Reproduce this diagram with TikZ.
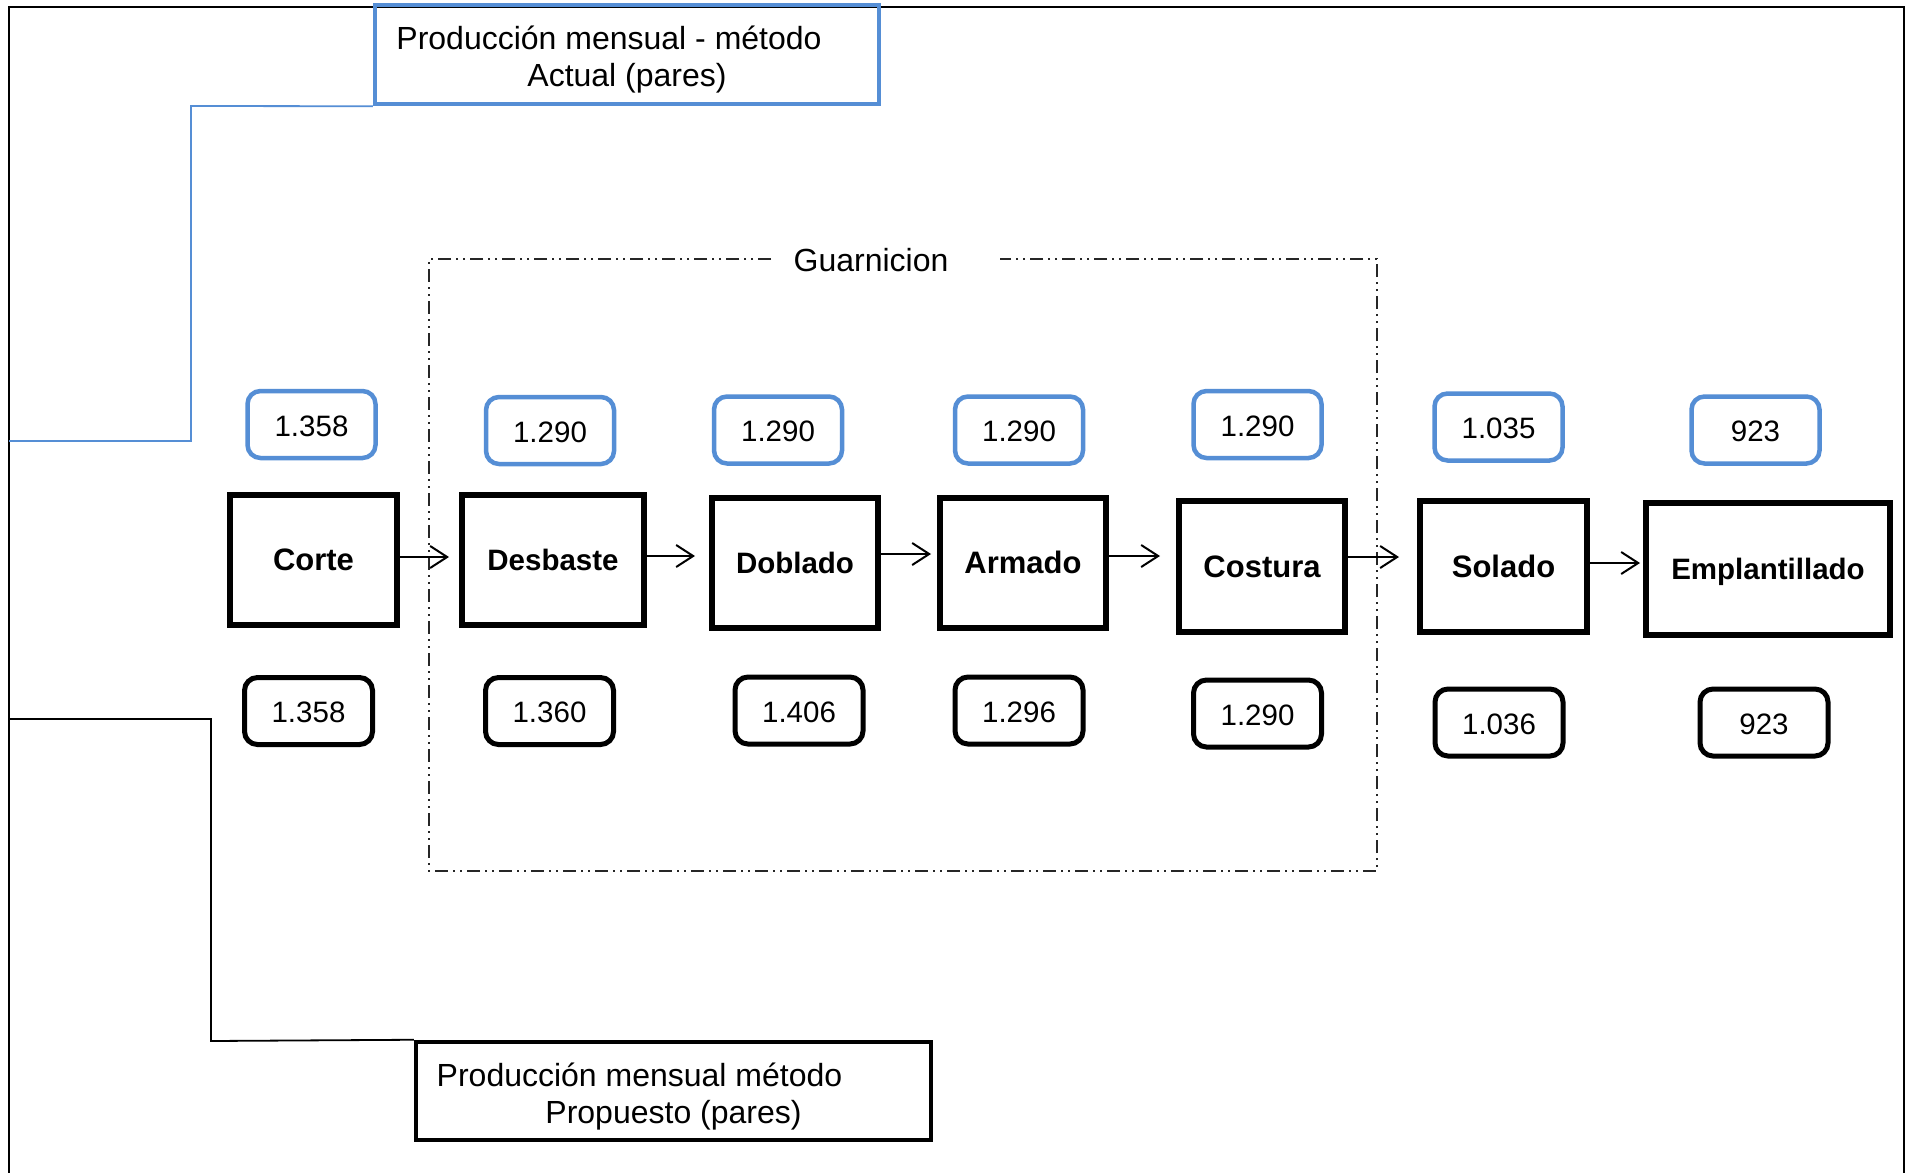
\documentclass[tikz,border=0pt]{standalone}
\usepackage{fontspec}
\setmainfont{Liberation Sans}
\usetikzlibrary{arrows.meta}
\definecolor{boxblue}{RGB}{85,142,213}
\newcommand{\narrowlabel}{\fontsize{29.5}{34}\selectfont\bfseries}
\tikzset{
  x=1pt, y=-1pt,
  proc/.style={draw=black, line width=6pt, fill=white, inner sep=0pt,
    text height=23pt, text depth=1pt,
    font=\fontsize{31}{34}\selectfont\bfseries},
  actualnum/.style={draw=boxblue, line width=4.5pt, rounded corners=13pt,
    minimum width=128pt, minimum height=67pt, inner sep=0pt,
    text height=23pt, text depth=0pt,
    font=\fontsize{29.5}{34}\selectfont},
  propnum/.style={draw=black, line width=5pt, rounded corners=13pt,
    minimum width=128pt, minimum height=67pt, inner sep=0pt,
    text height=23pt, text depth=0pt,
    font=\fontsize{29.5}{34}\selectfont},
  titlebox/.style={line width=4.5pt, inner sep=0pt,
    font=\fontsize{32}{37}\selectfont},
  arr/.style={-{Straight Barb[length=17pt,width=22pt,line width=2pt]}, line width=2pt},
  group/.style={line width=2pt, black!85,
    dash pattern=on 13pt off 5pt on 2pt off 5pt on 2pt off 5pt},
}
\begin{document}
\begin{tikzpicture}
\useasboundingbox (0,0) rectangle (1913,1172);
\fill[white] (0,0) rectangle (1913,1172);

% outer frame (open at the bottom)
\draw[line width=2.5pt] (9,1180) -- (9,7) -- (1904,7) -- (1904,1180);

% group frame "Guarnicion"
\node[font=\fontsize{32}{37}\selectfont] (guarn) at (871,260) {Guarnicion};
\draw[group] (771,259) -- (429,259) -- (429,871) -- (1377,871) -- (1377,259) -- (1000,259);

% process steps
\node[proc, minimum width=167pt, minimum height=130pt] (corte)   at (313.5,559.5) {Corte};
\node[proc, font=\narrowlabel, minimum width=182pt, minimum height=130pt] (desb) at (553,559.5) {Desbaste};
\node[proc, font=\narrowlabel, minimum width=166pt, minimum height=130pt] (dobl) at (795,562.5) {Doblado};
\node[proc, minimum width=166pt, minimum height=130pt] (arm)     at (1023,562.5)  {Armado};
\node[proc, minimum width=166pt, minimum height=131pt] (cost)    at (1262,566)    {Costura};
\node[proc, minimum width=167pt, minimum height=131pt] (sol)     at (1503.5,566)  {Solado};
\node[proc, font=\narrowlabel, minimum width=244pt, minimum height=132pt] (empl) at (1768,568.5) {Emplantillado};

% flow arrows
\draw[arr, shorten >=10pt] (corte.east |- 0,557) -- (desb.west |- 0,557);
\draw[arr, shorten >=14pt] (desb.east |- 0,556)  -- (dobl.west |- 0,556);
\draw[arr, shorten >=6pt]  (dobl.east |- 0,554)  -- (arm.west |- 0,554);
\draw[arr, shorten >=16pt] (arm.east |- 0,556)   -- (cost.west |- 0,556);
\draw[arr, shorten >=18pt] (cost.east |- 0,557)  -- (sol.west |- 0,557);
\draw[arr, shorten >=3pt]  (sol.east |- 0,563)   -- (empl.west |- 0,563);

% monthly output, current method
\node[actualnum] (a1) at (311.5,424.5) {1.358};
\node[actualnum] (a2) at (550,430.5)   {1.290};
\node[actualnum] (a3) at (778,430)     {1.290};
\node[actualnum] (a4) at (1019,430)    {1.290};
\node[actualnum] (a5) at (1257.5,424.5){1.290};
\node[actualnum] (a6) at (1498.5,427)  {1.035};
\node[actualnum] (a7) at (1755.5,430)  {923};

% monthly output, proposed method
\node[propnum] (p1) at (308.5,711)   {1.358};
\node[propnum] (p2) at (549.5,711)   {1.360};
\node[propnum] (p3) at (799,710.5)   {1.406};
\node[propnum] (p4) at (1019,710.5)  {1.296};
\node[propnum] (p5) at (1257.5,713.5){1.290};
\node[propnum] (p6) at (1499,722.5)  {1.036};
\node[propnum] (p7) at (1764,722.5)  {923};

% legend boxes
\node[titlebox, draw=boxblue, minimum width=504pt, minimum height=99pt] (actual) at (627,54.5)
  {\raisebox{-12pt}[0pt][0pt]{\begin{tabular}{@{}c@{}}\hspace*{-36pt}Producción mensual - método\\Actual (pares)\end{tabular}}};
\node[titlebox, draw=black, minimum width=515pt, minimum height=98pt] (propuesto) at (673.5,1091)
  {\raisebox{-13pt}[0pt][0pt]{\begin{tabular}{@{}c@{}}\hspace*{-68pt}Producción mensual método\\Propuesto (pares)\end{tabular}}};

% legend leaders to the frame
\coordinate (lblue) at (9,441);
\coordinate (lblack) at (9,719);
\draw[boxblue, line width=1.8pt] (actual.south west) -- (191,106) -- (191,441) -- (lblue);
\draw[black, line width=1.8pt] (propuesto.north west) -- (211,1041) -- (211,719) -- (lblack);
\end{tikzpicture}
\end{document}
